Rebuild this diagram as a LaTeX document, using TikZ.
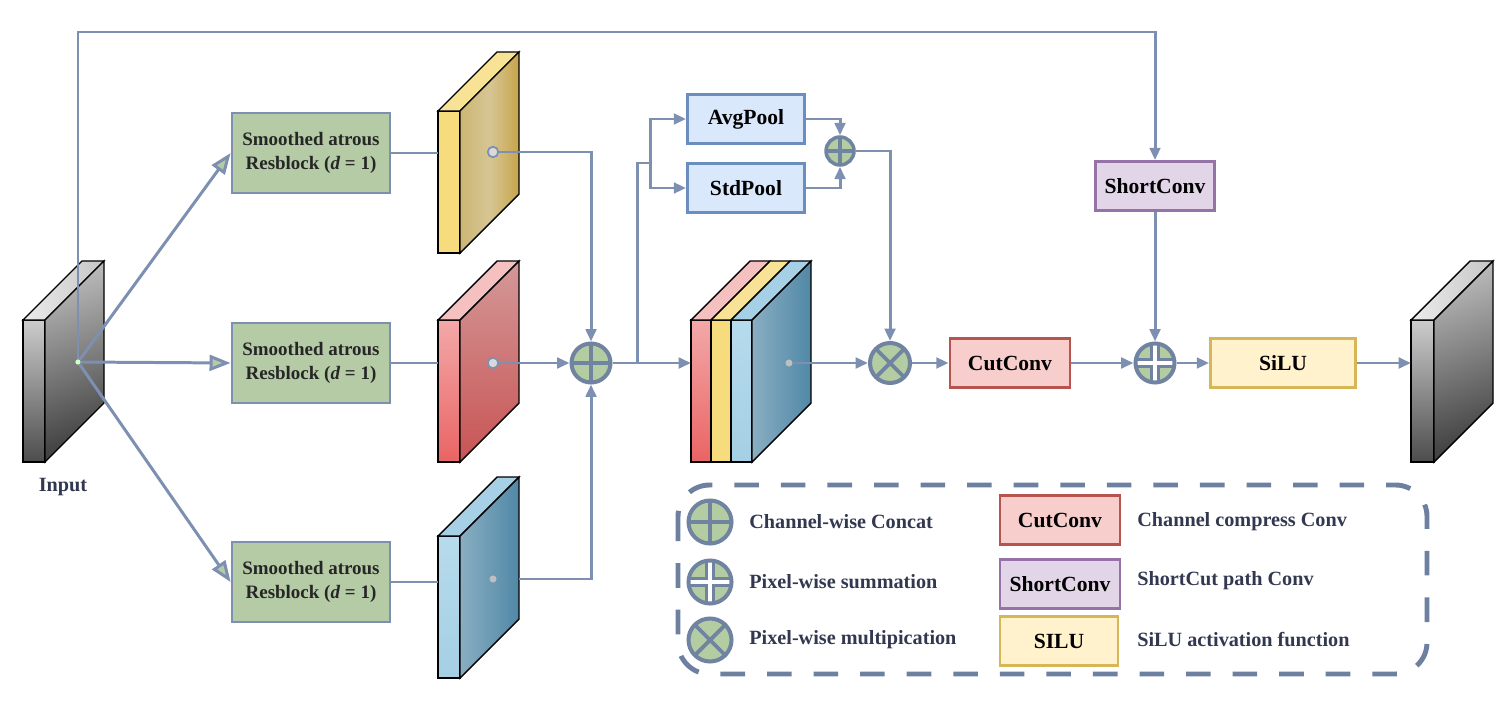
\documentclass[tikz,border=0pt]{standalone}
\usepackage{fontspec}
\setmainfont{Liberation Serif}
\usetikzlibrary{arrows.meta}
\definecolor{linec}{RGB}{125,144,178}
\definecolor{opline}{RGB}{112,132,162}
\definecolor{opfill}{RGB}{180,204,162}
\definecolor{sagreen}{RGB}{180,203,166}
\definecolor{poolfill}{RGB}{218,232,252}
\definecolor{poolline}{RGB}{108,142,191}
\definecolor{cutfill}{RGB}{248,206,204}
\definecolor{cutline}{RGB}{184,84,80}
\definecolor{shortfill}{RGB}{225,213,231}
\definecolor{shortline}{RGB}{150,115,166}
\definecolor{silufill}{RGB}{255,242,204}
\definecolor{siluline}{RGB}{214,182,86}
\definecolor{legline}{RGB}{110,128,160}
\definecolor{legtext}{RGB}{50,56,80}
\definecolor{yfront}{RGB}{246,220,125}
\definecolor{ytop}{RGB}{248,226,150}
\definecolor{yside1}{RGB}{204,182,116}
\definecolor{yside2}{RGB}{214,198,148}
\definecolor{yside3}{RGB}{200,164,74}
\definecolor{rfront1}{RGB}{243,168,168}
\definecolor{rfront2}{RGB}{234,100,100}
\definecolor{rtop}{RGB}{245,192,192}
\definecolor{rside1}{RGB}{212,152,152}
\definecolor{rside2}{RGB}{200,84,84}
\definecolor{bfront1}{RGB}{182,219,236}
\definecolor{bfront2}{RGB}{165,207,228}
\definecolor{btop}{RGB}{166,208,230}
\definecolor{bside1}{RGB}{138,174,194}
\definecolor{bside2}{RGB}{80,136,166}
\newcommand{\slab}[8]{%
  \shade[#6,draw=black,line width=0.8pt] (#1,#2) rectangle ++(#3,#4);
  \shade[#7,draw=black,line width=0.8pt] (#1,#2) -- ++(#3,0) -- ++(#5,-#5) -- ++(-#3,0) -- cycle;
  \shade[#8,draw=black,line width=0.8pt] (#1+#3,#2) -- ++(#5,-#5) -- ++(0,#4) -- ++(-#5,#5) -- cycle;
}
\begin{document}
\begin{tikzpicture}[x=0.02cm,y=-0.02cm,
    conn/.style={draw=linec,line width=1.7pt},
    tip/.style={-{Triangle[length=7pt,width=6pt]}},
    opentip/.style={-{Triangle[open,length=12pt,width=9pt,fill=sagreen]}},
    flat/.style={top color=#1,bottom color=#1},
    sabox/.style={draw=linec,line width=1.6pt,fill=sagreen,minimum width=3.16cm,minimum height=1.6cm,
      align=center,text=black!85,font=\bfseries\fontsize{10.8}{13.5}\selectfont},
    opbox/.style={line width=1.6pt,minimum height=0.98cm,inner sep=0pt,font=\bfseries\fontsize{12.3}{14}\selectfont},
    poolbox/.style={opbox,draw=poolline,fill=poolfill,minimum width=2.34cm},
    cutbox/.style={opbox,draw=cutline,fill=cutfill,minimum width=2.4cm},
    shortbox/.style={opbox,draw=shortline,fill=shortfill,minimum width=2.38cm},
    silubox/.style={opbox,draw=siluline,fill=silufill},
    op/.style={circle,inner sep=0pt,minimum size=0.78cm,fill=opfill,draw=opline,line width=2.3pt},
    catop/.style={op,path picture={\draw[opline,line width=2.2pt]
      (path picture bounding box.north) -- (path picture bounding box.south)
      (path picture bounding box.west) -- (path picture bounding box.east);}},
    sumop/.style={op,path picture={\draw[opline,line width=6pt]
      (path picture bounding box.north) -- (path picture bounding box.south)
      (path picture bounding box.west) -- (path picture bounding box.east);
      \draw[white,line width=2.4pt]
      (path picture bounding box.north) -- (path picture bounding box.south)
      (path picture bounding box.west) -- (path picture bounding box.east);}},
    mulop/.style={op,path picture={\draw[opline,line width=2.2pt]
      (path picture bounding box.north west) -- (path picture bounding box.south east)
      (path picture bounding box.south west) -- (path picture bounding box.north east);}},
    ringdot/.style={circle,inner sep=0pt,minimum size=6pt,draw=linec,line width=1pt,fill=white!70!gray},
    greydot/.style={circle,inner sep=0pt,minimum size=4pt,fill=gray!50},
    legtxt/.style={anchor=west,inner sep=0pt,text=legtext,font=\bfseries\fontsize{11.5}{13}\selectfont}]
    \useasboundingbox (0,0) rectangle (1506,702);
    \slab{23}{320}{22}{142}{59}{top color=gray!40,bottom color=black!70}{left color=gray!15,right color=gray!45}{top color=gray!55,bottom color=black!75,shading angle=20}
    \slab{438}{111}{22}{142}{59}{flat=yfront}{flat=ytop}{left color=yside1,right color=yside3,middle color=yside2}
    \slab{438}{320}{22}{142}{59}{top color=rfront1,bottom color=rfront2}{flat=rtop}{top color=rside1,bottom color=rside2}
    \slab{438}{536}{22}{142}{59}{top color=bfront1,bottom color=bfront2}{flat=btop}{left color=bside1,right color=bside2}
    \slab{1411}{320}{23}{142}{59}{top color=gray!40,bottom color=black!70}{left color=gray!15,right color=gray!45}{top color=gray!55,bottom color=black!75,shading angle=20}
    \shade[top color=rfront1,bottom color=rfront2,draw=black,line width=0.8pt] (691,320) rectangle (711,462);
    \fill[yfront,draw=black,line width=0.8pt] (711,320) rectangle (731,462);
    \shade[top color=bfront1,bottom color=bfront2,draw=black,line width=0.8pt] (731,320) rectangle (752,462);
    \fill[rtop,draw=black,line width=0.8pt] (691,320) -- (711,320) -- (770,261) -- (750,261) -- cycle;
    \fill[ytop,draw=black,line width=0.8pt] (711,320) -- (731,320) -- (790,261) -- (770,261) -- cycle;
    \fill[btop,draw=black,line width=0.8pt] (731,320) -- (752,320) -- (811,261) -- (790,261) -- cycle;
    \shade[left color=bside1,right color=bside2,draw=black,line width=0.8pt] (752,320) -- (811,261) -- (811,403) -- (752,462) -- cycle;
    \node[text=legtext,font=\bfseries\fontsize{11.5}{13}\selectfont] (inlabel) at (63,487) {Input};
    \node[inner sep=0pt,minimum size=3pt,circle,fill=white!80!green] (in) at (78,362) {};
    \node[sabox] (sa1) at (311,153) {Smoothed atrous\\Resblock (\textit{d} = 1)};
    \node[sabox] (sa2) at (311,363) {Smoothed atrous\\Resblock (\textit{d} = 1)};
    \node[sabox] (sa3) at (311,582) {Smoothed atrous\\Resblock (\textit{d} = 1)};
    \coordinate (fm1w) at (438,153);
    \coordinate (fm2w) at (438,363);
    \coordinate (fm3w) at (438,582);
    \coordinate (fm3e) at (519,579);
    \node[ringdot] (fm1) at (493,152) {};
    \node[ringdot] (fm2) at (493,363) {};
    \node[greydot] (fm3) at (493,579) {};
    \node[catop] (cat) at (591,363) {};
    \coordinate (stkw) at (691,363);
    \node[greydot] (stk) at (789,363) {};
    \coordinate (br) at (637,363);
    \coordinate (sp) at (650,163);
    \node[poolbox] (avg) at (746,119) {AvgPool};
    \node[poolbox] (std) at (746,188) {StdPool};
    \node[catop,minimum size=0.56cm,line width=2pt] (psum) at (840,151) {};
    \node[mulop,minimum size=0.8cm] (mul) at (890,363) {};
    \node[cutbox] (cut) at (1010,363) {CutConv};
    \node[shortbox] (short) at (1155,186) {ShortConv};
    \node[sumop] (add) at (1155,363) {};
    \node[silubox,minimum width=2.9cm] (silu) at (1283,363) {SiLU};
    \coordinate (outw) at (1411,363);
    \coordinate (topr) at (1155,32);
    \draw[conn,tip] (in) |- (topr) -- (short.north);
    \draw[conn,opentip] (in) -- (sa1.west);
    \draw[conn,opentip] (in) -- (sa2.west);
    \draw[conn,opentip] (in) -- (sa3.west);
    \draw[conn] (sa1.east) -- (fm1w);
    \draw[conn] (sa2.east) -- (fm2w);
    \draw[conn] (sa3.east) -- (fm3w);
    \draw[conn,tip] (fm1) -| (cat.north);
    \draw[conn,tip] (fm2) -- (cat.west);
    \draw[conn,tip] (fm3e) -| (cat.south);
    \draw[conn,tip] (cat.east) -- (stkw);
    \draw[conn] (br) |- (sp);
    \draw[conn,tip] (sp) |- (avg.west);
    \draw[conn,tip] (sp) |- (std.west);
    \draw[conn,tip] (avg.east) -| (psum.north);
    \draw[conn,tip] (std.east) -| (psum.south);
    \draw[conn,tip] (psum.east) -| (mul.north);
    \draw[conn,tip] (stk) -- (mul.west);
    \draw[conn,tip] (mul.east) -- (cut.west);
    \draw[conn,tip] (cut.east) -- (add.west);
    \draw[conn,tip] (short.south) -- (add.north);
    \draw[conn,tip] (add.east) -- (silu.west);
    \draw[conn,tip] (silu.east) -- (outw);
    \draw[legline,line width=2.8pt,dash pattern=on 14pt off 12.5pt,rounded corners=18pt] (678,485) rectangle (1427,674);
    \node[catop,minimum size=0.86cm] (lcat) at (710,522) {};
    \node[sumop,minimum size=0.86cm] (lsum) at (710,582) {};
    \node[mulop,minimum size=0.86cm] (lmul) at (710,640) {};
    \node[legtxt] (tcat) at (749,522) {Channel-wise Concat};
    \node[legtxt] (tsum) at (749,582) {Pixel-wise summation};
    \node[legtxt] (tmul) at (749,640) {Pixel-wise multipication};
    \node[cutbox] (lcut) at (1060,520) {CutConv};
    \node[shortbox,minimum width=2.4cm] (lshort) at (1060,584) {ShortConv};
    \node[silubox,minimum width=2.36cm] (lsilu) at (1059,641) {SILU};
    \node[legtxt] (tcut) at (1137,522) {Channel compress Conv};
    \node[legtxt] (tshort) at (1137,581) {ShortCut path Conv};
    \node[legtxt] (tsilu) at (1137,640) {SiLU activation function};
\end{tikzpicture}
\end{document}
